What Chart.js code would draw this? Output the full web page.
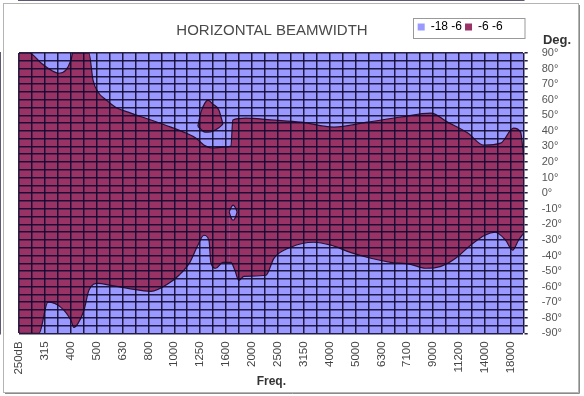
<!DOCTYPE html>
<html>
<head>
<meta charset="utf-8">
<script src="https://cdn.jsdelivr.net/npm/chart.js@4.4.1/dist/chart.umd.min.js"></script>
<style>
  body { margin: 0; background: #fff; }
  #wrap { width: 584px; height: 396px; }
</style>
</head>
<body>
<div id="wrap"><canvas id="beamChart" width="584" height="396"></canvas></div>
<script>
// frequency bands along the bottom (one label per band, half-band grid in between)
const freqLabels = ['250dB', '315', '400', '500', '630', '800', '1000', '1250', '1600', '2000',
  '2500', '3150', '4000', '5000', '6300', '7100', '9000', '11200', '14000', '18000'];

// upper edge of the -6 dB region (position in bands, angle in degrees)
const upperPos = [0, 0.39, 0.85, 1.24, 1.54, 1.81, 2.01, 2.08, 2.70, 2.86, 3.05, 3.36, 3.75, 4.32, 5.10,
  5.87, 6.45, 6.83, 7.14, 7.49, 7.88, 8.19, 8.26, 8.76, 9.73, 10.89, 12.16, 13.47, 14.75, 15.91,
  16.56, 17.34, 17.95, 18.61, 19.11, 19.38, 19.5];
const upperDeg = [90, 90, 83.6, 79, 77, 79, 85.5, 90, 90, 72.6, 65, 60, 55, 51.4, 47,
  42.4, 38.6, 35.4, 31, 29, 29.6, 30.2, 47, 48.2, 47, 45.6, 42.4, 45.6, 48.9, 51.4,
  45.6, 38.6, 30.8, 32.1, 41.8, 39.2, 23.1];

// lower edge of the -6 dB region
const lowerPos = [0, 0.77, 1.12, 1.62, 2.01, 2.12, 2.28, 2.51, 2.70, 3.05, 3.55, 4.21, 5.10, 5.79, 6.18,
  6.6, 6.91, 7.14, 7.34, 7.41, 7.6, 7.88, 8.19, 8.34, 8.49, 8.69, 9.54, 9.85, 10.5, 11.39,
  12.05, 12.8, 13.6, 14.36, 15.13, 15.7, 16.3, 16.87, 17.45, 18.0, 18.4, 18.8, 19.07, 19.3, 19.5];
const lowerDeg = [-90, -90, -70, -73.3, -81.7, -86.2, -83.6, -75.2, -62.4, -57.9, -59.2, -61.1, -63, -57.9, -52.7,
  -44.4, -33.4, -27, -30.2, -44.4, -48.2, -44.4, -44.4, -49.5, -56, -53.4, -52.7, -41.8, -34.7, -31.5,
  -33.4, -38, -41.8, -44.4, -45.7, -48.2, -47, -41.8, -33.4, -27, -25.1, -30.2, -36.6, -30.2, -25.7];

// small -6 dB island above the band near 1250
const islandPos = [6.91, 7.03, 7.18, 7.3, 7.49, 7.72, 7.88];
const islandTopDeg = [43, 52, 57.8, 59.8, 57.2, 53.4, 44.4];
const islandBottomDeg = [43, 41, 39.2, 39.2, 39.8, 42, 44.4];

// small hole inside the band at 1600
const holePos = [8.12, 8.2, 8.27, 8.35, 8.43];
const holeTopDeg = [-12, -9, -7.7, -9, -12];
const holeBottomDeg = [-12, -16, -17.4, -16, -12];

const BLUE = '#9999ff';
const MAROON = '#993366';
const EDGE = '#2a1030';
const GRID = 'rgba(16,10,48,0.9)';
const FONT = '"Liberation Sans", Arial, sans-serif';

function pts(xs, ys) {
  return xs.map((x, i) => ({ x: x, y: ys[i] }));
}

function edge(xs, ys, color) {
  return {
    data: pts(xs, ys),
    fill: 'start',
    backgroundColor: color,
    borderColor: EDGE,
    borderWidth: 1.2,
    pointRadius: 0,
    tension: 0.25,
    cubicInterpolationMode: 'monotone'
  };
}

const deco = {
  id: 'deco',
  beforeLayout(chart) {
    // leave a gap under the legend row and pull its items in from the right edge
    const lg = chart.legend;
    if (lg && !lg._tuned) {
      const fit = lg.fit.bind(lg);
      lg.fit = function () {
        fit();
        this.height += 10;
        if (this.lineWidths) this.lineWidths[0] += 18;
      };
      lg._tuned = true;
    }
  },
  beforeDraw(chart) {
    const ctx = chart.ctx, a = chart.chartArea;
    ctx.save();
    ctx.fillStyle = BLUE;
    ctx.fillRect(a.left, a.top, a.right - a.left, a.bottom - a.top);
    ctx.restore();
  },
  afterDraw(chart) {
    const ctx = chart.ctx, lg = chart.legend, a = chart.chartArea;
    ctx.save();
    // outer frame
    ctx.strokeStyle = '#b4b4b4';
    ctx.lineWidth = 1;
    ctx.strokeRect(3.5, 3.5, 575, 389);
    ctx.strokeStyle = '#8a8a8a';
    ctx.beginPath();
    ctx.moveTo(579.5, 5); ctx.lineTo(579.5, 393.5); ctx.lineTo(5, 393.5);
    ctx.stroke();
    // legend frame
    const hb = lg.legendHitBoxes;
    if (hb && hb.length) {
      const x0 = Math.round(hb[0].left) - 4.5;
      ctx.strokeStyle = '#999';
      ctx.strokeRect(x0, 18.5, Math.round(a.right) + 1 - x0, 20);
    }
    // title
    ctx.fillStyle = '#4a4a4a';
    ctx.font = '15px ' + FONT;
    ctx.textAlign = 'center';
    ctx.textBaseline = 'middle';
    ctx.fillText('HORIZONTAL BEAMWIDTH', 272, 31);
    // right axis heading
    ctx.fillStyle = '#333';
    ctx.font = 'bold 13px ' + FONT;
    ctx.fillText('Deg.', 557, 40);
    ctx.restore();
  }
};

new Chart(document.getElementById('beamChart'), {
  type: 'line',
  data: {
    datasets: [
      edge(lowerPos, lowerDeg, BLUE),
      edge(holePos, holeBottomDeg, MAROON),
      edge(holePos, holeTopDeg, BLUE),
      edge(upperPos, upperDeg, MAROON),
      edge(islandPos, islandBottomDeg, BLUE),
      edge(islandPos, islandTopDeg, MAROON)
    ]
  },
  options: {
    responsive: false,
    animation: false,
    layout: { padding: { left: 19, right: 8, top: 18, bottom: 7 } },
    plugins: {
      tooltip: { enabled: false },
      title: { display: false },
      legend: {
        position: 'top',
        align: 'end',
        fullSize: false,
        onClick: null,
        labels: {
          boxWidth: 7,
          boxHeight: 7,
          padding: 3,
          color: '#333',
          font: { size: 12, family: FONT },
          generateLabels: () => [
            { text: '-18 -6', fillStyle: BLUE, strokeStyle: BLUE, lineWidth: 0, hidden: false, datasetIndex: 0 },
            { text: '-6 -6', fillStyle: MAROON, strokeStyle: MAROON, lineWidth: 0, hidden: false, datasetIndex: 3 }
          ]
        }
      }
    },
    scales: {
      x: {
        type: 'linear',
        min: 0,
        max: 19.5,
        afterBuildTicks: s => { s.ticks = freqLabels.concat(freqLabels).map((_, i) => ({ value: i * 0.5 })); },
        grid: { color: GRID, lineWidth: 1.5, drawTicks: false, z: 1 },
        border: { color: GRID, width: 1.5 },
        ticks: {
          autoSkip: false,
          minRotation: 90,
          maxRotation: 90,
          padding: 8,
          color: '#444',
          font: { size: 11.5, family: FONT },
          callback: v => Number.isInteger(v) ? freqLabels[v] : ''
        },
        title: {
          display: true,
          text: 'Freq.',
          color: '#333',
          padding: { top: -8, bottom: 0 },
          font: { size: 12, weight: 'bold', family: FONT }
        }
      },
      y: {
        position: 'right',
        min: -90,
        max: 90,
        afterBuildTicks: s => {
          const t = [];
          for (let d = -90; d <= 90; d += 5) t.push({ value: d });
          s.ticks = t;
        },
        grid: { color: GRID, lineWidth: 1.5, tickLength: 4, z: 1 },
        border: { color: GRID, width: 1.5 },
        ticks: {
          autoSkip: false,
          padding: 14,
          color: '#555',
          font: { size: 11, family: FONT },
          callback: v => v % 10 === 0 ? v + '°' : ''
        }
      }
    }
  },
  plugins: [deco]
});
</script>
</body>
</html>
